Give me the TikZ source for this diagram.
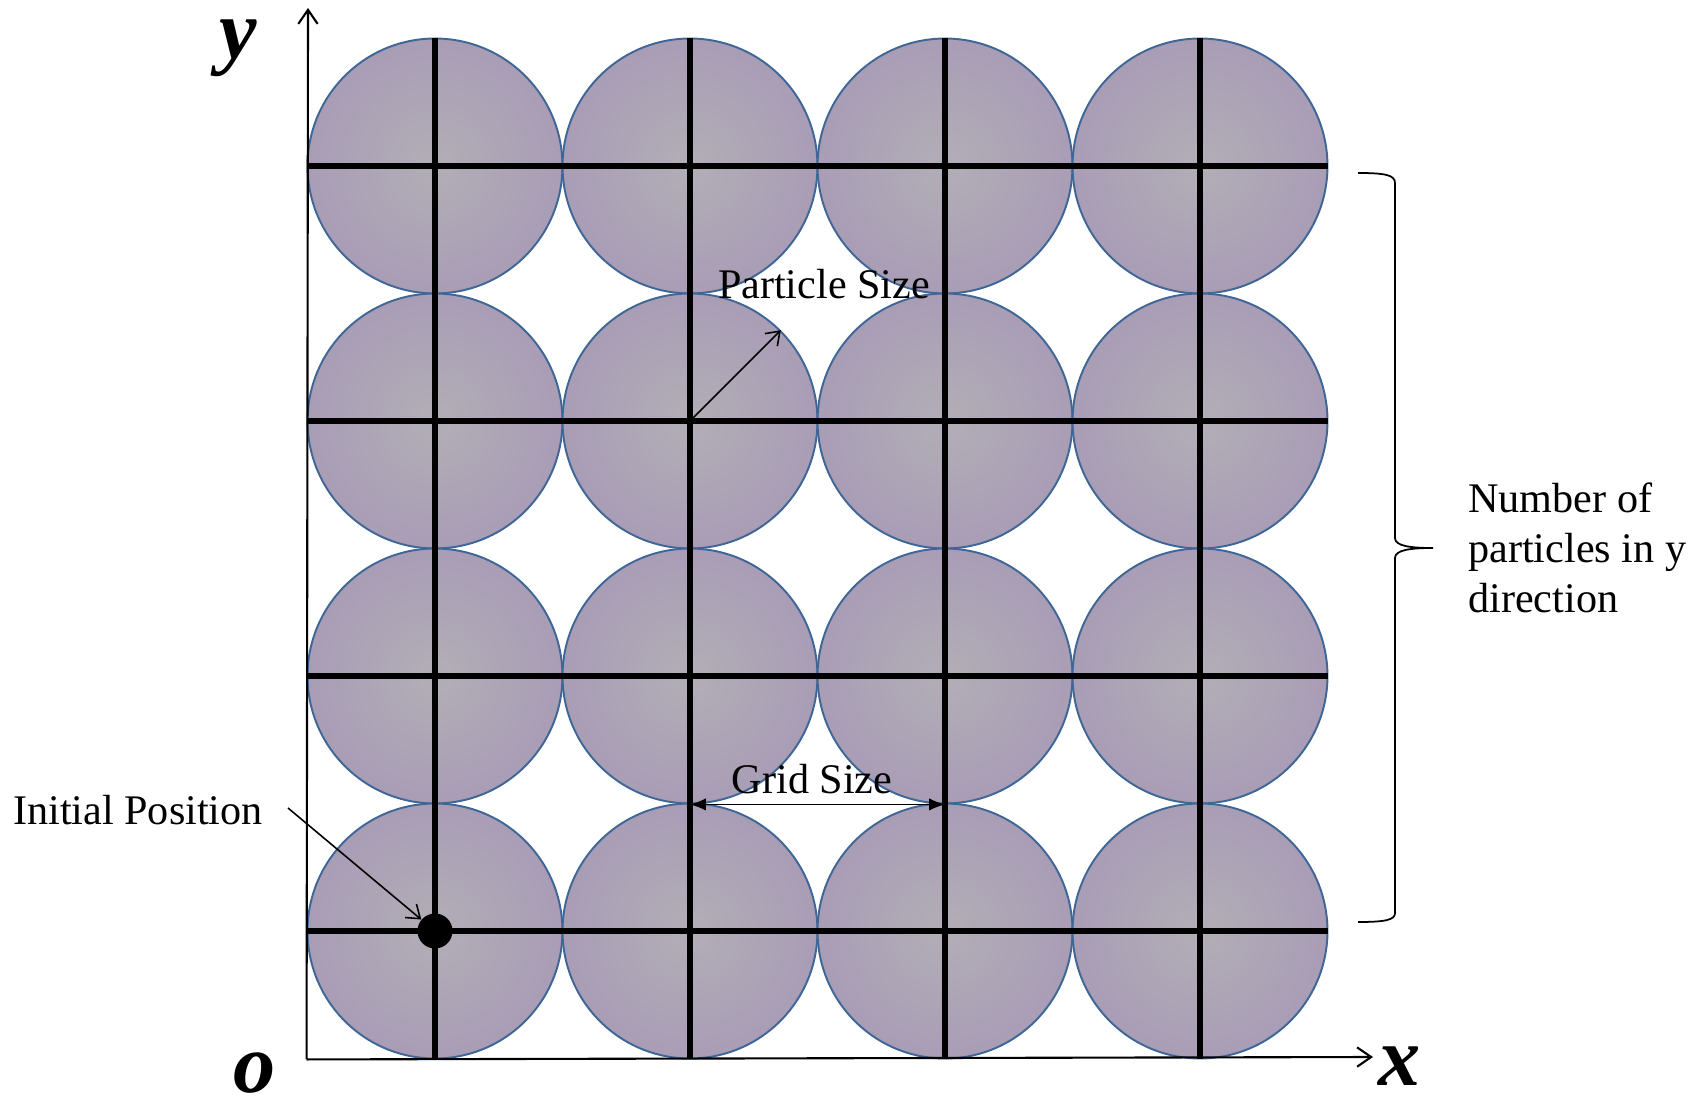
\documentclass[tikz,border=0pt]{standalone}
\usepackage{fontspec}
\setmainfont{Liberation Serif}
\usepackage{tikz}
\usetikzlibrary{arrows.meta, positioning, calc}
\definecolor{pedge}{RGB}{62,102,150}
\definecolor{pcenter}{RGB}{178,174,182}
\definecolor{pmid}{RGB}{168,155,182}
\definecolor{pouter}{RGB}{186,176,206}
\pgfdeclareradialshading{particleshade}{\pgfpoint{0bp}{0bp}}{color(0bp)=(pcenter); color(28bp)=(pmid); color(50bp)=(pouter)}

\begin{document}
\begin{tikzpicture}[x=0.02cm, y=-0.02cm,
    particle/.style={circle, draw=pedge, line width=1.1pt, shade, shading=particleshade,
        minimum size=5.1cm, inner sep=0pt},
    gridline/.style={line width=2.9pt},
    axis/.style={line width=1.2pt, -{Straight Barb[length=8pt,width=11pt]}},
    pointer/.style={line width=0.9pt, -{Straight Barb[length=7pt,width=10pt]}},
    dimline/.style={line width=0.9pt, {Latex[length=9pt,width=7pt]}-{Latex[length=9pt,width=7pt]}},
    lbl/.style={font=\fontsize{24}{28.5}\selectfont, inner sep=0pt},
    axlabel/.style={font=\fontsize{48}{50}\selectfont\bfseries\itshape, inner sep=0pt},
    initdot/.style={circle, fill=black, minimum size=0.7cm, inner sep=0pt}
]
\useasboundingbox (0,0) rectangle (1706,1097);
% particles
\foreach \i in {1,...,4}
  \foreach \j in {1,...,4}
    \node[particle] (p\i\j) at ({435+255*(\i-1)},{166+255*(\j-1)}) {};
% grid lines
\foreach \j in {1,...,4} \draw[gridline] (p1\j.west) -- (p4\j.east);
\foreach \i in {1,...,4} \draw[gridline] (p\i1.north) -- (p\i4.south);
% axes
\coordinate (origin) at (p11.west |- p14.south);
\coordinate (ytip) at (308,8);
\coordinate (xtip) at (1373,1057);
\draw[axis] (origin) -- (ytip);
\draw[axis] (origin) -- (xtip);
\node[axlabel] (ylab) at (238,48) {y};
\node[axlabel] (xlab) at (1400,1066) {x};
\node[axlabel] (olab) at (255,1073) {o};
% initial position
\node[initdot] (init) at (p14) {};
\node[lbl, anchor=base] (initlab) at (138,824) {Initial Position};
\coordinate (initfrom) at (288,808);
\draw[pointer] (initfrom) -- (init);
% particle size
\draw[pointer] (p22.center) -- (p22.45);
\node[lbl, anchor=base] (sizelab) at (824,299) {Particle Size};
% grid size
\draw[dimline] (p23.south) -- (p33.south);
\node[lbl, anchor=base] (gridlab) at (812,793) {Grid Size};
% brace
\coordinate (btop) at (1358,173);
\coordinate (btip) at (1433,548);
\coordinate (bbot) at (1358,922);
\draw[line width=1pt] (btop) .. controls (1385,173) and (1395,175) .. (1395,183)
    -- (1395,538) .. controls (1395,546) and (1410,548) .. (btip)
    .. controls (1410,548) and (1395,550) .. (1395,558)
    -- (1395,913) .. controls (1395,920) and (1385,922) .. (bbot);
\node[lbl, align=left, right=0.7cm of btip] (countlab) {Number of\\particles in y\\direction};
\end{tikzpicture}
\end{document}
